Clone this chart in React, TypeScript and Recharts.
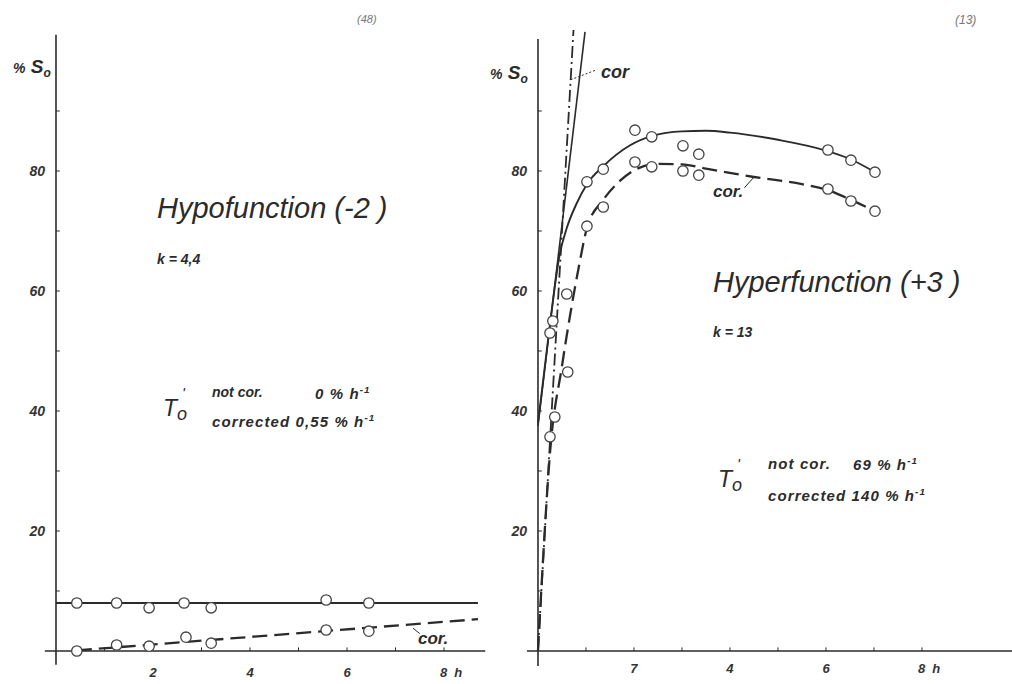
import React from "react";
import { ComposedChart, Line, Scatter, XAxis, YAxis, ReferenceLine } from "recharts";

const FONT = '"Liberation Sans", Arial, sans-serif';
const INK = "#2b2b2b";

type Pt = { x: number; y: number };

// shared axis ticks
const yTickValues = [20, 40, 60, 80];
const yMinorTicks = [10, 20, 30, 40, 50, 60, 70, 80, 90];
const hourTicks = [2, 4, 6, 8];
const hourMinorTicks = [1, 2, 3, 4, 5, 6, 7, 8];

// panel (48): Hypofunction (-2)
const hypoTickLabels = ["2", "4", "6", "8 h"];
const hypoNotCorPts: Pt[] = [
  { x: 0.43, y: 8 },
  { x: 1.25, y: 8 },
  { x: 1.92, y: 7.2 },
  { x: 2.64, y: 8 },
  { x: 3.2, y: 7.2 },
  { x: 5.57, y: 8.5 },
  { x: 6.45, y: 8 },
];
const hypoCorPts: Pt[] = [
  { x: 0.43, y: 0 },
  { x: 1.25, y: 1 },
  { x: 1.92, y: 0.8 },
  { x: 2.68, y: 2.3 },
  { x: 3.2, y: 1.3 },
  { x: 5.57, y: 3.5 },
  { x: 6.45, y: 3.3 },
];
const hypoNotCorFit: Pt[] = [
  { x: 0, y: 8 },
  { x: 8.7, y: 8 },
];
const hypoCorFit: Pt[] = [
  { x: 0.43, y: 0.1 },
  { x: 8.7, y: 5.3 },
];

// panel (13): Hyperfunction (+3)
const hyperTickLabels = ["7", "4", "6", "8 h"];
const hyperNotCorPts: Pt[] = [
  { x: 0.25, y: 53 },
  { x: 0.31, y: 55 },
  { x: 0.6, y: 59.5 },
  { x: 1.02, y: 78.2 },
  { x: 1.36, y: 80.3 },
  { x: 2.02, y: 86.8 },
  { x: 2.37, y: 85.7 },
  { x: 3.02, y: 84.2 },
  { x: 3.35, y: 82.8 },
  { x: 6.04, y: 83.5 },
  { x: 6.52, y: 81.8 },
  { x: 7.02, y: 79.8 },
];
const hyperCorPts: Pt[] = [
  { x: 0.25, y: 35.7 },
  { x: 0.35, y: 39 },
  { x: 0.62, y: 46.5 },
  { x: 1.02, y: 70.8 },
  { x: 1.36, y: 74 },
  { x: 2.02, y: 81.5 },
  { x: 2.37, y: 80.7 },
  { x: 3.02, y: 80 },
  { x: 3.35, y: 79.3 },
  { x: 6.04, y: 77 },
  { x: 6.52, y: 75 },
  { x: 7.02, y: 73.3 },
];
const hyperNotCorFit: Pt[] = [
  { x: 0, y: 38 },
  { x: 0.25, y: 54.5 },
  { x: 0.45, y: 66 },
  { x: 0.6, y: 70.5 },
  { x: 0.8, y: 74.5 },
  { x: 1.02, y: 77.8 },
  { x: 1.36, y: 80.8 },
  { x: 1.92, y: 84.3 },
  { x: 2.4, y: 85.9 },
  { x: 3, y: 86.6 },
  { x: 3.5, y: 86.7 },
  { x: 4, y: 86.4 },
  { x: 5, y: 85.2 },
  { x: 6, y: 83.4 },
  { x: 6.5, y: 82 },
  { x: 7.02, y: 79.8 },
];
const hyperCorFit: Pt[] = [
  { x: 0, y: 0 },
  { x: 0.1, y: 14.5 },
  { x: 0.25, y: 33 },
  { x: 0.5, y: 47.5 },
  { x: 0.67, y: 56 },
  { x: 0.85, y: 64 },
  { x: 1.02, y: 70.5 },
  { x: 1.36, y: 75.2 },
  { x: 1.7, y: 78.3 },
  { x: 2.02, y: 80.2 },
  { x: 2.5, y: 81.2 },
  { x: 3, y: 81.1 },
  { x: 3.5, y: 80.4 },
  { x: 4.5, y: 79 },
  { x: 5.5, y: 77.8 },
  { x: 6.04, y: 76.8 },
  { x: 6.52, y: 75.2 },
  { x: 7.02, y: 73.3 },
];
// initial slopes: 69 %/h (not cor.) and 140 %/h (corrected)
const hyperNotCorTangent: Pt[] = [
  { x: 0, y: 37.5 },
  { x: 0.98, y: 103.2 },
];
const hyperCorTangent: Pt[] = [
  { x: 0, y: 0 },
  { x: 0.74, y: 103.5 },
];

type Frame = { x0: number; x1: number; y0: number; y1: number };

function axisFrame(f: Frame) {
  return [
    <ReferenceLine key="ax" segment={[{ x: f.x0, y: 0 }, { x: f.x1, y: 0 }]} stroke={INK} strokeWidth={1.6} ifOverflow="visible" />,
    <ReferenceLine key="ay" segment={[{ x: 0, y: f.y0 }, { x: 0, y: f.y1 }]} stroke={INK} strokeWidth={1.6} ifOverflow="visible" />,
    ...hourMinorTicks.map((t) => (
      <ReferenceLine key={"tx" + t} segment={[{ x: t, y: 0 }, { x: t, y: 0.6 }]} stroke={INK} strokeWidth={1} ifOverflow="visible" />
    )),
    ...yMinorTicks.map((t) => (
      <ReferenceLine key={"ty" + t} segment={[{ x: 0, y: t }, { x: 0.08, y: t }]} stroke={INK} strokeWidth={1} ifOverflow="visible" />
    )),
  ];
}

const ring = (p: any) => <circle cx={p.cx} cy={p.cy} r={5.2} fill="#fff" stroke="#444" strokeWidth={1.3} />;

const hourTick = (labels: string[]) => (p: any) => {
  const i = hourTicks.indexOf(p.payload.value);
  const label = labels[i] ?? "";
  const unit = label.endsWith(" h");
  const style = { fontFamily: FONT, fontStyle: "italic", fontWeight: 700, fontSize: 13, fill: "#333" } as const;
  if (unit) {
    return (
      <text x={p.x - 4} y={p.y} dy="0.71em" textAnchor="start" style={style}>
        {label.replace(" h", "")}
        <tspan dx={7}>h</tspan>
      </text>
    );
  }
  return (
    <text x={p.x} y={p.y} dy="0.71em" textAnchor="middle" style={style}>
      {label}
    </text>
  );
};

const yTickStyle = { fontFamily: FONT, fontStyle: "italic", fontWeight: 700, fontSize: 14, fill: "#333" };

function Note({ x, y, size, children, style }: { x: number; y: number; size: number; children: React.ReactNode; style?: React.CSSProperties }) {
  return (
    <div
      style={{
        position: "absolute",
        left: x,
        top: y - size * 0.5,
        fontSize: size,
        lineHeight: 1,
        fontStyle: "italic",
        fontFamily: FONT,
        color: INK,
        whiteSpace: "nowrap",
        ...style,
      }}
    >
      {children}
    </div>
  );
}

const sup = (s: string) => <span style={{ fontSize: "0.65em", verticalAlign: "0.6em" }}>{s}</span>;

function T0({ x, y }: { x: number; y: number }) {
  return (
    <Note x={x} y={y} size={23}>
      T<span style={{ fontSize: 18, position: "relative", top: 4 }}>o</span>
      <span style={{ position: "absolute", left: 19, top: -12, fontSize: 15 }}>'</span>
    </Note>
  );
}

function PercentS({ x, y }: { x: number; y: number }) {
  return (
    <Note x={x} y={y} size={19} style={{ fontWeight: 700 }}>
      <span style={{ fontSize: 14 }}>%</span> S<span style={{ fontSize: 12, position: "relative", top: 4 }}>o</span>
    </Note>
  );
}

const noteText = { fontWeight: 700, letterSpacing: 1.1 } as const;

export default function App() {
  return (
    <div style={{ position: "relative", width: 1012, height: 684, background: "#fff", overflow: "hidden" }}>
      <style>{`body{margin:0}`}</style>

      {/* left panel */}
      <div style={{ position: "absolute", left: 0, top: 0 }}>
        <ComposedChart width={493} height={684} margin={{ top: 0, right: 0, bottom: 0, left: 0 }}>
          <XAxis
            type="number"
            dataKey="x"
            domain={[-0.206, 9.01]}
            ticks={hourTicks}
            interval={0}
            tick={hourTick(hypoTickLabels)}
            axisLine={false}
            tickLine={false}
            tickSize={0}
            tickMargin={4}
            height={20}
            allowDataOverflow
          />
          <YAxis
            type="number"
            dataKey="y"
            domain={[-2.167, 108.5]}
            ticks={yTickValues}
            interval={0}
            tick={yTickStyle}
            axisLine={false}
            tickLine={false}
            tickSize={0}
            tickMargin={1}
            width={46}
            allowDataOverflow
          />
          {axisFrame({ x0: -0.23, x1: 8.85, y0: -2.3, y1: 102.7 })}
          <Line data={hypoNotCorFit} dataKey="y" type="linear" stroke={INK} strokeWidth={1.9} dot={false} isAnimationActive={false} />
          <Line data={hypoCorFit} dataKey="y" type="linear" stroke={INK} strokeWidth={2.3} strokeDasharray="15 7" dot={false} isAnimationActive={false} />
          <ReferenceLine segment={[{ x: 7.36, y: 3.8 }, { x: 7.5, y: 2.9 }]} stroke={INK} strokeWidth={1} ifOverflow="visible" />
          <Scatter data={hypoNotCorPts} shape={ring} isAnimationActive={false} />
          <Scatter data={hypoCorPts} shape={ring} isAnimationActive={false} />
        </ComposedChart>
      </div>

      {/* right panel */}
      <div style={{ position: "absolute", left: 490, top: 0 }}>
        <ComposedChart width={522} height={684} margin={{ top: 0, right: 0, bottom: 0, left: 0 }}>
          <XAxis
            type="number"
            dataKey="x"
            domain={[-0.208, 9.875]}
            ticks={hourTicks}
            interval={0}
            tick={hourTick(hyperTickLabels)}
            axisLine={false}
            tickLine={false}
            tickSize={0}
            tickMargin={0}
            height={20}
            allowDataOverflow
          />
          <YAxis
            type="number"
            dataKey="y"
            domain={[-2.167, 108.5]}
            ticks={yTickValues}
            interval={0}
            tick={yTickStyle}
            axisLine={false}
            tickLine={false}
            tickSize={0}
            tickMargin={1}
            width={38}
            allowDataOverflow
          />
          {axisFrame({ x0: -0.23, x1: 9.875, y0: -2.5, y1: 102 })}
          <Line data={hyperNotCorTangent} dataKey="y" type="linear" stroke={INK} strokeWidth={1.6} dot={false} isAnimationActive={false} />
          <Line data={hyperCorTangent} dataKey="y" type="linear" stroke={INK} strokeWidth={1.8} strokeDasharray="12 4 2 4" dot={false} isAnimationActive={false} />
          <Line data={hyperNotCorFit} dataKey="y" type="monotone" stroke={INK} strokeWidth={1.9} dot={false} isAnimationActive={false} />
          <Line data={hyperCorFit} dataKey="y" type="monotone" stroke={INK} strokeWidth={2.3} strokeDasharray="15 7" dot={false} isAnimationActive={false} />
          <ReferenceLine segment={[{ x: 0.68, y: 95.2 }, { x: 1.2, y: 96.8 }]} stroke={INK} strokeWidth={1} strokeDasharray="2 2" ifOverflow="visible" />
          <ReferenceLine segment={[{ x: 4.5, y: 79.0 }, { x: 4.3, y: 77.2 }]} stroke={INK} strokeWidth={1} ifOverflow="visible" />
          <Scatter data={hyperNotCorPts} shape={ring} isAnimationActive={false} />
          <Scatter data={hyperCorPts} shape={ring} isAnimationActive={false} />
        </ComposedChart>
      </div>

      {/* annotations */}
      <Note x={357} y={19} size={11} style={{ color: "#777" }}>(48)</Note>
      <Note x={955} y={20} size={12} style={{ color: "#777" }}>(13)</Note>
      <PercentS x={13} y={66} />
      <PercentS x={490} y={72} />

      <Note x={157} y={208} size={29}>Hypofunction (-2 )</Note>
      <Note x={157} y={259} size={14} style={{ fontWeight: 700 }}>k = 4,4</Note>
      <T0 x={163} y={408} />
      <Note x={212} y={392} size={14} style={{ fontWeight: 700 }}>not cor.</Note>
      <Note x={315} y={392} size={15} style={noteText}>0 % h{sup("-1")}</Note>
      <Note x={212} y={420} size={15} style={noteText}>corrected 0,55 % h{sup("-1")}</Note>
      <Note x={418} y={638} size={17} style={{ fontWeight: 700 }}>cor.</Note>

      <Note x={713} y={282} size={29}>Hyperfunction (+3 )</Note>
      <Note x={713} y={332} size={14} style={{ fontWeight: 700 }}>k = 13</Note>
      <T0 x={718} y={479} />
      <Note x={768} y={463} size={15} style={noteText}>not cor.</Note>
      <Note x={853} y={463} size={15} style={noteText}>69 % h{sup("-1")}</Note>
      <Note x={768} y={494} size={15} style={noteText}>corrected 140 % h{sup("-1")}</Note>
      <Note x={601} y={72} size={18} style={{ fontWeight: 700 }}>cor</Note>
      <Note x={713} y={191} size={17} style={{ fontWeight: 700 }}>cor.</Note>
    </div>
  );
}
